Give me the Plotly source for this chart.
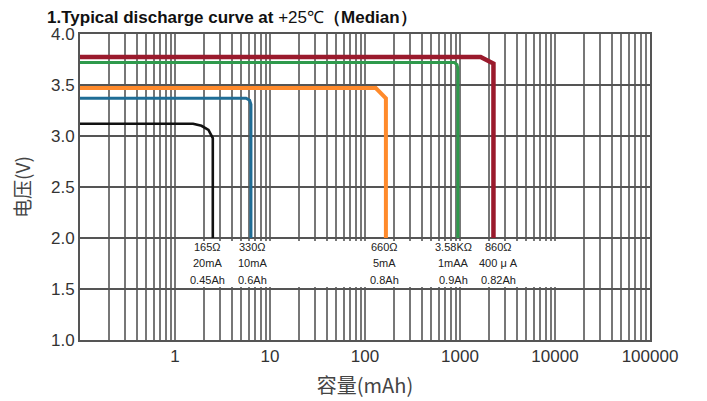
import math
import plotly.graph_objects as go

# ---- data ----
black_x = [0.1, 1.55, 1.9, 2.25, 2.5, 2.5]
black_y = [3.12, 3.12, 3.10, 3.06, 2.98, 2.0]
blue_x = [0.1, 5.6, 6.1, 6.3, 6.3]
blue_y = [3.37, 3.37, 3.35, 3.31, 2.0]
orange_x = [0.1, 130, 166, 166]
orange_y = [3.47, 3.47, 3.37, 2.0]
green_x = [0.1, 870, 930, 950, 950]
green_y = [3.72, 3.72, 3.70, 3.66, 2.0]
red_x = [0.1, 1650, 2250, 2250]
red_y = [3.775, 3.775, 3.71, 2.0]

label_x = [2.2, 6.6, 162, 850, 2550]
label_lines = [
    ["165Ω", "20mA", "0.45Ah"],
    ["330Ω", "10mA", "0.6Ah"],
    ["660Ω", "5mA", "0.8Ah"],
    ["3.58KΩ", "1mAA", "0.9Ah"],
    ["860Ω", "400 μ A", "0.82Ah"],
]
label_rows_y = [1.91, 1.755, 1.59]
label_box_x = [1.37, 16000]
label_box_y = [1.52, 1.975]

decades = [0.1, 1, 10, 100, 1000, 10000, 100000]
decade_labels = ["", "1", "10", "100", "1000", "10000", "100000"]
y_ticks = [1.0, 1.5, 2.0, 2.5, 3.0, 3.5, 4.0]

# ---- grid positions (log minor grid) ----
tickvals, ticktext = [], []
for d, lab in zip(decades, decade_labels):
    tickvals.append(d)
    ticktext.append(lab)
    if d < 100000:
        for m in range(2, 10):
            tickvals.append(d * m)
            ticktext.append("")

ML, MR, MT, MB = 72, 65, 26, 69
W, H = 707, 401
px_per_decade = (W - ML - MR) / 6.0
px_per_volt = (H - MT - MB) / 3.0

fig = go.Figure()
series = [
    (black_x, black_y, "#111111", 2.6),
    (blue_x, blue_y, "#1f6d96", 3),
    (orange_x, orange_y, "#ff8a2b", 4),
    (green_x, green_y, "#2f9a4c", 3),
    (red_x, red_y, "#9a1a2c", 4.5),
]
for xs, ys, c, w in series:
    fig.add_trace(go.Scatter(x=xs, y=ys, mode="lines",
                             line=dict(color=c, width=w), showlegend=False,
                             hoverinfo="skip"))

# white panel behind the labels
bx0, bx1 = math.log10(label_box_x[0]), math.log10(label_box_x[1])
fig.add_annotation(x=(bx0 + bx1) / 2, y=sum(label_box_y) / 2, xref="x", yref="y",
                   text="", showarrow=False, bgcolor="white", borderpad=0, borderwidth=0,
                   width=(bx1 - bx0) * px_per_decade,
                   height=(label_box_y[1] - label_box_y[0]) * px_per_volt)

for lx, lines in zip(label_x, label_lines):
    for ly, t in zip(label_rows_y, lines):
        fig.add_annotation(x=math.log10(lx), y=ly, xref="x", yref="y", text=t, showarrow=False,
                           font=dict(family="Liberation Sans, Arial", size=11, color="#222"))

fig.update_layout(
    width=W, height=H,
    margin=dict(l=ML, r=MR, t=MT, b=MB),
    paper_bgcolor="white", plot_bgcolor="white",
    title=dict(text="<b>1.Typical discharge curve at </b>+25℃<b>（Median）</b>",
               x=39/707, xanchor="left", xref="container",
               y=1-9/401, yanchor="middle", yref="container",
               font=dict(family="Liberation Sans, Arial", size=17, color="#111")),
)
fig.update_xaxes(type="log", range=[-1, 5], tickvals=tickvals, ticktext=ticktext,
                 showgrid=True, gridcolor="#777", gridwidth=2,
                 showline=True, linecolor="#555", linewidth=2, mirror=True,
                 ticks="", tickfont=dict(family="Liberation Sans, Arial", size=17, color="#333"),
                 title=dict(text="容量(mAh)", standoff=14,
                            font=dict(family="Noto Sans CJK SC", size=20, color="#444")),
                 zeroline=False)
fig.update_yaxes(range=[1, 4], tickvals=y_ticks, ticktext=[f"{v:.1f}" for v in y_ticks],
                 showgrid=True, gridcolor="#555", gridwidth=2,
                 showline=True, linecolor="#555", linewidth=2, mirror=True,
                 ticks="", tickfont=dict(family="Liberation Sans, Arial", size=17, color="#333"),
                 title=dict(text="电压(V)", standoff=16,
                            font=dict(family="Noto Sans CJK SC", size=19, color="#444")),
                 zeroline=False)

fig.write_html("out.html")
